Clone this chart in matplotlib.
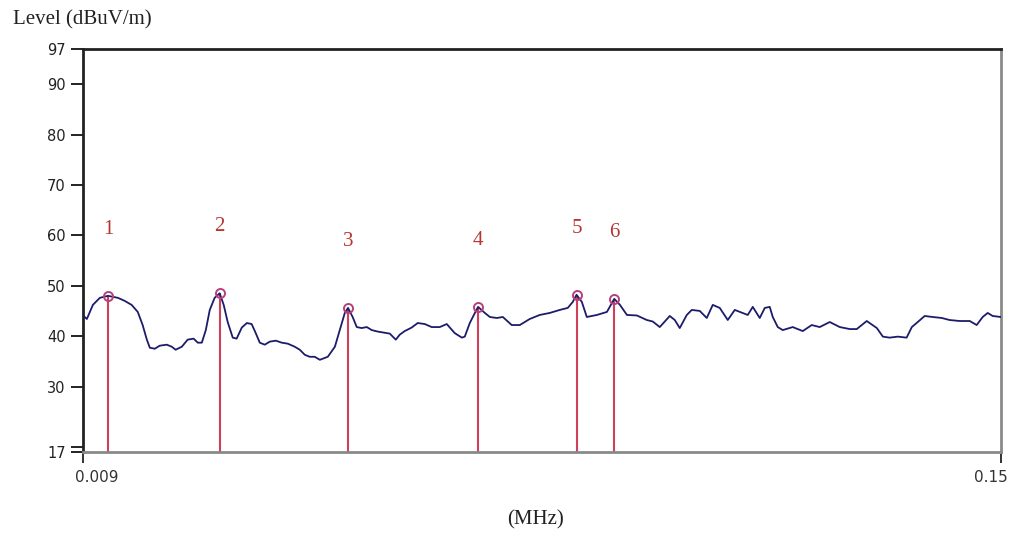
import matplotlib
matplotlib.use("Agg")
import matplotlib.pyplot as plt
import matplotlib.transforms as mtransforms

# ---- data (MHz, dBuV/m) ----
freq = [0.00900, 0.00912, 0.00929, 0.00949, 0.00973, 0.01003, 0.01024, 0.01046,
        0.01066, 0.01082, 0.01096, 0.01106, 0.01123, 0.01140, 0.01165, 0.01183,
        0.01197, 0.01220, 0.01242, 0.01265, 0.01281, 0.01297, 0.01313, 0.01329,
        0.01349, 0.01370, 0.01387, 0.01404, 0.01426, 0.01443, 0.01466, 0.01489,
        0.01511, 0.01530, 0.01549, 0.01573, 0.01597, 0.01627, 0.01657, 0.01688,
        0.01724, 0.01751, 0.01778, 0.01805, 0.01833, 0.01862, 0.01908, 0.01950,
        0.01979, 0.02010, 0.02030, 0.02059, 0.02085, 0.02117, 0.02150, 0.02183,
        0.02224, 0.02265, 0.02307, 0.02350, 0.02379, 0.02415, 0.02467, 0.02513,
        0.02568, 0.02623, 0.02689, 0.02747, 0.02815, 0.02877, 0.02903, 0.02948,
        0.02994, 0.03024, 0.03087, 0.03135, 0.03202, 0.03262, 0.03352, 0.03436,
        0.03542, 0.03652, 0.03766, 0.03884, 0.03980, 0.04042, 0.04088, 0.04155,
        0.04219, 0.04351, 0.04487, 0.04557, 0.04589, 0.04670, 0.04771, 0.04919,
        0.05070, 0.05164, 0.05276, 0.05440, 0.05524, 0.05609, 0.05731, 0.05820,
        0.05964, 0.06093, 0.06206, 0.06340, 0.06498, 0.06639, 0.06803, 0.06908,
        0.07015, 0.07167, 0.07278, 0.07390, 0.07458, 0.07573, 0.07690, 0.07929,
        0.08176, 0.08404, 0.08613, 0.08881, 0.09158, 0.09443, 0.09647, 0.09947,
        0.1026, 0.1045, 0.1067, 0.1094, 0.1124, 0.1142, 0.1163, 0.1188,
        0.1217, 0.1252, 0.1282, 0.1322, 0.1364, 0.1393, 0.1419, 0.1441,
        0.1463, 0.1500]
level = [44.2, 43.4, 46.2, 47.6, 48.0, 47.6, 47.0, 46.2,
         44.8, 42.2, 39.3, 37.7, 37.5, 38.1, 38.3, 37.9,
         37.3, 37.9, 39.3, 39.5, 38.7, 38.7, 41.2, 45.2,
         47.6, 48.5, 46.2, 42.8, 39.7, 39.5, 41.7, 42.6,
         42.4, 40.6, 38.7, 38.3, 38.9, 39.1, 38.7, 38.5,
         37.9, 37.3, 36.3, 35.9, 35.9, 35.3, 35.9, 37.9,
         41.2, 44.6, 45.6, 43.8, 41.8, 41.6, 41.8, 41.2,
         40.9, 40.7, 40.5, 39.3, 40.3, 41.0, 41.7, 42.6,
         42.4, 41.8, 41.8, 42.4, 40.6, 39.7, 39.9, 42.6,
         44.6, 45.8, 44.6, 43.8, 43.6, 43.8, 42.2, 42.2,
         43.4, 44.2, 44.6, 45.2, 45.6, 46.8, 48.2, 46.8,
         43.8, 44.2, 44.8, 46.6, 47.4, 46.2, 44.2, 44.1,
         43.2, 42.9, 41.8, 44.0, 43.2, 41.6, 44.2, 45.2,
         45.0, 43.6, 46.2, 45.6, 43.2, 45.2, 44.6, 44.2,
         45.8, 43.6, 45.6, 45.8, 43.8, 41.8, 41.2, 41.8,
         41.0, 42.2, 41.8, 42.8, 41.8, 41.4, 41.4, 43.0,
         41.6, 39.9, 39.7, 39.9, 39.7, 41.8, 42.8, 44.0,
         43.8, 43.6, 43.2, 43.0, 43.0, 42.2, 43.8, 44.6,
         44.0, 43.8]

marker_ids = ["1", "2", "3", "4", "5", "6"]
marker_freq = [0.00973, 0.01370, 0.02030, 0.03024, 0.04088, 0.04589]
marker_level = [48.0, 48.5, 45.6, 45.8, 48.2, 47.4]

y_ticks = [17, 30, 40, 50, 60, 70, 80, 90, 97]
x_min, x_max = 0.009, 0.15
y_min, y_max = 17, 97

fig = plt.figure(figsize=(10.14, 5.37), dpi=100)
ax = fig.add_axes([0.0814, 0.1583, 0.9056, 0.7505])
ax.set_xscale("log")
ax.set_xlim(x_min, x_max)
ax.set_ylim(y_min, y_max)

ax.plot(freq, level, color="#1c1c6b", lw=1.3, zorder=3)

for mid, mf, ml in zip(marker_ids, marker_freq, marker_level):
    ax.vlines(mf, y_min, ml, color="#d0405a", lw=1.5, zorder=2)
    ax.plot([mf], [ml], marker="o", ms=6.5, mfc="none", mec="#b8407a",
            mew=1.4, zorder=4)
    ax.annotate(mid, (mf, ml), xytext=(0, 48), textcoords="offset points",
                ha="center", va="center", color="#b5352f", fontsize=15,
                family="Liberation Serif")

# spines
for s in ("left", "top"):
    ax.spines[s].set_color("#222222")
    ax.spines[s].set_linewidth(2.0)
for s in ("right", "bottom"):
    ax.spines[s].set_color("#8a8a8a")
    ax.spines[s].set_linewidth(2.0)

ax.set_yticks(y_ticks)
ax.set_yticklabels([str(t) for t in y_ticks])
ax.set_yticks([18], minor=True)
ax.tick_params(axis="y", which="both", direction="out", length=8.5, width=1.4,
               pad=3.5, labelsize=10.5, colors="#222222")
ax.tick_params(axis="y", which="minor", labelleft=False)

ax.xaxis.set_minor_locator(matplotlib.ticker.NullLocator())
ax.set_xticks([x_min, x_max])
ax.set_xticklabels(["0.009", "0.15"])
ax.tick_params(axis="x", which="major", direction="out", length=8, width=1.4,
               pad=5, labelsize=11, colors="#333333")
lbls = ax.get_xticklabels()
lbls[0].set_transform(lbls[0].get_transform() +
                      mtransforms.ScaledTranslation(14 / 100, 0, fig.dpi_scale_trans))
lbls[1].set_transform(lbls[1].get_transform() +
                      mtransforms.ScaledTranslation(-10 / 100, 0, fig.dpi_scale_trans))

fig.text(13 / 1014, 1 - 20 / 537, "Level (dBuV/m)", ha="left", va="center",
         fontsize=15, family="Liberation Serif", color="#222222")
fig.text(536 / 1014, 1 - 520 / 537, "(MHz)", ha="center", va="center",
         fontsize=15, family="Liberation Serif", color="#222222")

fig.savefig("out.png", dpi=100)
